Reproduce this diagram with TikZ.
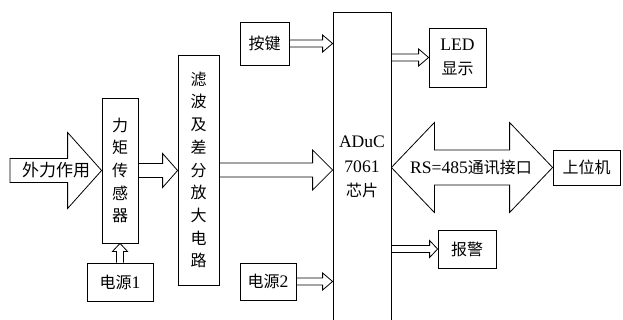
\documentclass[tikz,border=0pt]{standalone}
\usepackage{fontspec}
\setmainfont{Liberation Serif}[Scale=1.1]
\newfontfamily\cjk{Noto Sans CJK SC}
\usetikzlibrary{calc}
\tikzset{
  box/.style={draw, line width=0.8pt, inner sep=0pt, align=center, font=\fontsize{16}{20}\selectfont\cjk},
  vbox/.style={box, font=\fontsize{16}{22.7}\selectfont\cjk},
  arr/.style={draw, line width=0.8pt, line join=miter}
}
% horizontal hollow arrow: #1 start, #2 tip, #3 shaft half width, #4 head half width, #5 head length
\newcommand\harrow[5]{%
  \draw[arr] ($(#1)+(0,#3)$) -- ($(#2)+(-#5,#3)$) -- ($(#2)+(-#5,#4)$) -- (#2)
    -- ($(#2)+(-#5,-#4)$) -- ($(#2)+(-#5,-#3)$) -- ($(#1)+(0,-#3)$);}
% vertical (upward) hollow arrow
\newcommand\varrow[5]{%
  \draw[arr] ($(#1)+(#3,0)$) -- ($(#2)+(#3,#5)$) -- ($(#2)+(#4,#5)$) -- (#2)
    -- ($(#2)+(-#4,#5)$) -- ($(#2)+(-#3,#5)$) -- ($(#1)+(-#3,0)$);}
\begin{document}
\begin{tikzpicture}[x=1pt,y=-1pt]
\useasboundingbox (0,0) rectangle (623,320);
\clip (0,0) rectangle (623,320);
\fill[white] (0,0) rectangle (623,320);

% nodes
\node[vbox, minimum width=36, minimum height=145] (sensor) at (120,170.5) {力\\矩\\传\\感\\器};
\node[vbox, minimum width=41, minimum height=230] (filter) at (198.5,170) {滤\\波\\及\\差\\分\\放\\大\\电\\路};
\node[box, minimum width=66, minimum height=38] (p1) at (120,282) {电源\rmfamily 1};
\node[box, minimum width=49, minimum height=43] (keys) at (264.5,43.5) {按键};
\node[box, minimum width=56, minimum height=37] (p2) at (268,281.5) {电源\rmfamily 2};
\node[box, minimum width=58, minimum height=310, font=\fontsize{16}{24.5}\selectfont\cjk] (aduc) at (362,167) {\rmfamily ADuC\\\rmfamily 7061\\芯片};
\node[box, minimum width=57, minimum height=59, font=\fontsize{16}{24}\selectfont\cjk] (led) at (457.5,57.5) {\rmfamily LED\\显示};
\node[box, minimum width=67, minimum height=35] (pc) at (586.5,167.5) {上位机};
\node[box, minimum width=58, minimum height=38] (alarm) at (467,249) {报警};

\coordinate (f) at (10,170.5);

% external force arrow (closed tail)
\draw[arr] ($(f)+(0,12)$) -- ($(sensor.west)+(-34,12)$) -- ($(sensor.west)+(-34,38)$) -- (sensor.west)
  -- ($(sensor.west)+(-34,-38)$) -- ($(sensor.west)+(-34,-12)$) -- ($(f)+(0,-12)$) -- cycle;
\node[font=\fontsize{17}{20}\selectfont\cjk, inner sep=0pt] (ftext) at (56,170) {外力作用};

% sensor -> filter
\harrow{sensor.east}{filter.west |- sensor.east}{7}{17}{15}
% filter -> aduc
\harrow{filter.east}{aduc.west |- filter.east}{7}{20}{20}
% keys -> aduc
\harrow{keys.east}{aduc.west |- keys.east}{3.5}{8.5}{10}
% power2 -> aduc
\harrow{p2.east}{aduc.west |- p2.east}{3.5}{8.5}{10}
% aduc -> led
\harrow{aduc.east |- led.west}{led.west}{3.5}{8.5}{10}
% aduc -> alarm
\harrow{aduc.east |- alarm.west}{alarm.west}{3.5}{8.5}{8}
% power1 -> sensor (upward)
\varrow{p1.north}{sensor.south}{3.5}{7.5}{8}

% double arrow RS-485
\coordinate (dl) at (aduc.east |- pc.west);
\draw[arr] (dl) -- ($(dl)+(43,-45)$) -- ($(dl)+(43,-17.5)$) -- ($(pc.west)+(-43,-17.5)$)
  -- ($(pc.west)+(-43,-45)$) -- (pc.west) -- ($(pc.west)+(-43,45)$) -- ($(pc.west)+(-43,17.5)$)
  -- ($(dl)+(43,17.5)$) -- ($(dl)+(43,45)$) -- cycle;
\node[font=\fontsize{16}{20}\selectfont\cjk, inner sep=0pt] (rs) at (471,168) {\rmfamily RS=485\cjk 通讯接口};
\end{tikzpicture}
\end{document}
